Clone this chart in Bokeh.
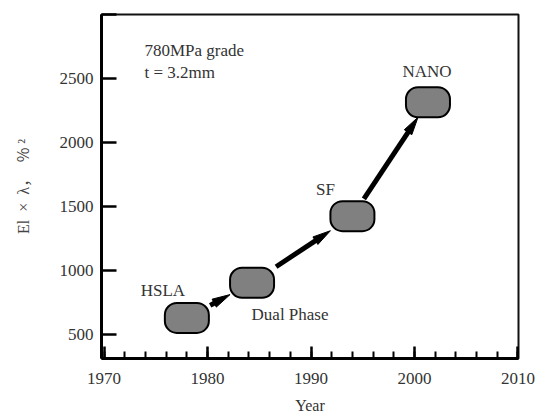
from bokeh.plotting import figure
from bokeh.models import (Range1d, SingleIntervalTicker, FixedTicker,
                          Label, ColumnDataSource)
from bokeh.embed import file_html
from bokeh.resources import INLINE

# ---- data ----
steels = ["HSLA", "Dual Phase", "SF", "NANO"]
years = [1978.0, 1984.3, 1994.0, 2001.3]
el_lambda = [630, 905, 1425, 2315]

x_ticks = [1970, 1980, 1990, 2000, 2010]
y_ticks = [500, 1000, 1500, 2000, 2500, 3000]
y_tick_labels = {3000: ""}

note_lines = ["780MPa grade", "t = 3.2mm"]

# ---- style ----
FONT = "Liberation Serif"
TXT = "#333333"
X0, X1 = 1969.75, 2010.05
Y0, Y1 = 313, 3000
FW, FH = 417, 344
PILL_W, PILL_H = 44, 30
label_dx = [-24, 38, -27, -1]
label_dy = [-27, 32, -27, -31]
HEAD_L, HEAD_HW = 18, 4.5

p = figure(frame_width=FW, frame_height=FH, output_backend="svg",
           toolbar_location=None, x_range=Range1d(X0, X1),
           y_range=Range1d(Y0, Y1), min_border_left=101, min_border_right=21,
           min_border_top=14, min_border_bottom=61)
p.xgrid.visible = False
p.ygrid.visible = False
p.outline_line_color = "#111111"
p.outline_line_width = 2
p.background_fill_color = "white"
p.border_fill_color = "white"

xa = p.xaxis[0]
xa.ticker = SingleIntervalTicker(interval=10, num_minor_ticks=5)
xa.axis_line_width = 3
xa.axis_line_color = "black"
xa.major_tick_in = 12
xa.major_tick_out = 0
xa.minor_tick_in = 7
xa.minor_tick_out = 0
xa.major_tick_line_width = 2.5
xa.minor_tick_line_width = 2
xa.major_label_standoff = 14
xa.major_label_text_font = FONT
xa.major_label_text_font_size = "17px"
xa.major_label_text_color = TXT
xa.axis_label = "Year"
xa.axis_label_text_font = FONT
xa.axis_label_text_font_style = "normal"
xa.axis_label_text_font_size = "16px"
xa.axis_label_text_color = TXT
xa.axis_label_standoff = 10

ya = p.yaxis[0]
ya.ticker = FixedTicker(ticks=y_ticks)
ya.major_label_overrides = y_tick_labels
ya.axis_line_width = 3
ya.axis_line_color = "black"
ya.major_tick_in = 15
ya.major_tick_out = 0
ya.minor_tick_in = 0
ya.minor_tick_out = 0
ya.major_tick_line_width = 2.5
ya.major_label_standoff = 8
ya.major_label_text_font = FONT
ya.major_label_text_font_size = "17px"
ya.major_label_text_color = TXT
ya.axis_label = "El\u2002×\u2002λ，\u2002％\u2009²"
ya.axis_label_text_font = "'Liberation Serif', 'Noto Sans CJK JP', serif"
ya.axis_label_text_font_style = "normal"
ya.axis_label_text_font_size = "16px"
ya.axis_label_text_color = "#444444"
ya.axis_label_standoff = 25

src = ColumnDataSource(dict(x=years, y=el_lambda, name=steels,
                            dx=label_dx, dy=label_dy))

# arrows between consecutive steels, clipped to pill boundaries in pixel space
kx = FW / (X1 - X0)
ky = FH / (Y1 - Y0)
hw, hh = PILL_W / 2, PILL_H / 2
sx0, sy0, sx1, sy1 = [], [], [], []
heads_x, heads_y = [], []
for i in range(len(years) - 1):
    ax, ay = years[i], el_lambda[i]
    bx, by = years[i + 1], el_lambda[i + 1]
    dxp, dyp = (bx - ax) * kx, (by - ay) * ky
    t = min(hw / abs(dxp), hh / abs(dyp))
    t0 = t + 0.02
    t1 = 1 - t
    tx, ty = ax + t1 * (bx - ax), ay + t1 * (by - ay)
    L = (dxp ** 2 + dyp ** 2) ** 0.5
    ux, uy = dxp / L, dyp / L
    nx, ny = -uy, ux
    bxp, byp = -HEAD_L * ux, -HEAD_L * uy
    heads_x.append([tx,
                    tx + (bxp + HEAD_HW * nx) / kx,
                    tx + (bxp - HEAD_HW * nx) / kx])
    heads_y.append([ty,
                    ty + (byp + HEAD_HW * ny) / ky,
                    ty + (byp - HEAD_HW * ny) / ky])
    sx0.append(ax + t0 * (bx - ax))
    sy0.append(ay + t0 * (by - ay))
    sx1.append(tx + (bxp + 2 * ux) / kx)
    sy1.append(ty + (byp + 2 * uy) / ky)

p.segment(x0=sx0, y0=sy0, x1=sx1, y1=sy1, line_width=5, line_color="black",
          line_cap="butt")
p.patches(xs=heads_x, ys=heads_y, fill_color="black", line_color="black",
          line_width=1)

p.rect(x="x", y="y", width=PILL_W, height=PILL_H, width_units="screen",
       height_units="screen", source=src, fill_color="#808080",
       line_color="black", line_width=2, border_radius=12)

p.text(x="x", y="y", text="name", x_offset="dx", y_offset="dy", source=src,
       text_font={"value": FONT}, text_font_size={"value": "17px"},
       text_color=TXT, text_align="center", text_baseline="middle")

note_y = [2719, 2547]
for line, yy in zip(note_lines, note_y):
    p.add_layout(Label(x=1973.9, y=yy, text=line, text_font=FONT,
                       text_font_size="17px", text_color=TXT,
                       text_align="left", text_baseline="middle"))

open("out.html", "w").write(file_html(p, INLINE))
